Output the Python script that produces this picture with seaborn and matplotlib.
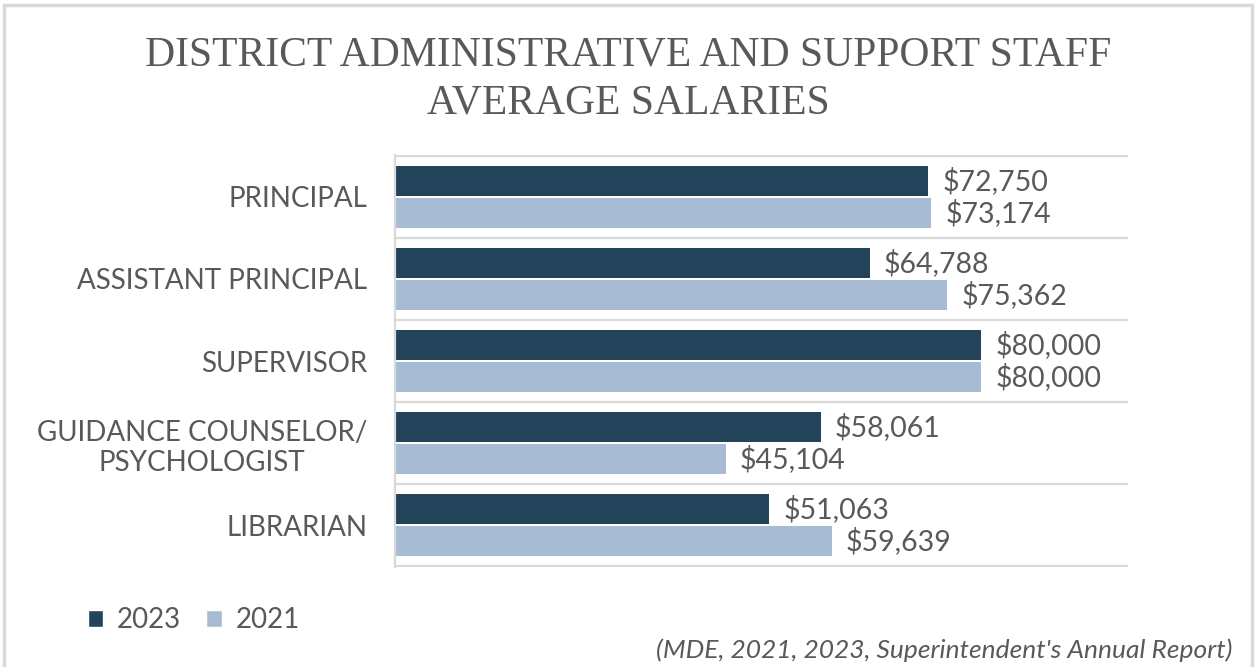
import numpy as np
import pandas as pd
import matplotlib
matplotlib.use("Agg")
import matplotlib.pyplot as plt
from matplotlib.patches import Patch, Rectangle
import seaborn as sns

# chart data
roles = ["PRINCIPAL", "ASSISTANT PRINCIPAL", "SUPERVISOR",
         "GUIDANCE COUNSELOR/\nPSYCHOLOGIST", "LIBRARIAN"]
years = ["2023", "2021"]
salary_2023 = [72750, 64788, 80000, 58061, 51063]
salary_2021 = [73174, 75362, 80000, 45104, 59639]

title = "DISTRICT ADMINISTRATIVE AND SUPPORT STAFF\nAVERAGE SALARIES"
source = "(MDE, 2021, 2023, Superintendent's Annual Report)"

DARK = "#23435A"
LIGHT = "#A7BCD4"
TEXT = "#595959"
GRID = "#D9D9D9"

df = pd.DataFrame({
    "role": roles * 2,
    "year": [years[0]] * len(roles) + [years[1]] * len(roles),
    "salary": salary_2023 + salary_2021,
})

sns.set_theme(style="white")
plt.rcParams["font.family"] = ["Lato", "DejaVu Sans"]

fig = plt.figure(figsize=(12.57, 6.67), dpi=100)
ax = fig.add_axes([0.3142, 0.1499, 0.5832, 0.6177])

sns.barplot(data=df, x="salary", y="role", hue="year", hue_order=years,
            order=roles, palette=[DARK, LIGHT], saturation=1, width=0.78, gap=0.07,
            linewidth=0, legend=False, ax=ax)

for cont in ax.containers:
    ax.bar_label(cont, fmt="${:,.0f}", padding=10, fontsize=20.5, color=TEXT)

ax.set_xlim(0, 100000)
ax.set_ylim(4.51, -0.51)
ax.xaxis.set_visible(False)
ax.set_ylabel("")

# separators between categories, with short outward ticks
ax.set_yticks(np.arange(-0.5, len(roles)), minor=True)
ax.tick_params(axis="y", which="major", length=0, pad=20,
               labelsize=20, labelcolor=TEXT)
ax.tick_params(axis="y", which="minor", length=6.5, width=1.5, color=GRID)
for lbl in ax.get_yticklabels():
    lbl.set_multialignment("center")
ax.yaxis.grid(True, which="minor", color=GRID, linewidth=1.6)
ax.yaxis.grid(False, which="major")

for side in ["top", "right", "bottom"]:
    ax.spines[side].set_visible(False)
ax.spines["left"].set_color(GRID)
ax.spines["left"].set_linewidth(1.6)

fig.text(0.5, 1 - 79 / 667, title, ha="center", va="center",
         fontsize=30, color=TEXT, family="Liberation Serif", linespacing=1.32)

handles = [Patch(facecolor=DARK, label=years[0]),
           Patch(facecolor=LIGHT, label=years[1])]
fig.legend(handles=handles, loc="center left", bbox_to_anchor=(88 / 1257, 1 - 620 / 667),
           ncol=2, frameon=False, fontsize=20, labelcolor=TEXT,
           handlelength=0.55, handleheight=0.55, handletextpad=0.5,
           columnspacing=0.9, borderpad=0, borderaxespad=0)

fig.text(1232 / 1257, 1 - 650 / 667, source, ha="right", va="center",
         fontsize=19, style="italic", color=TEXT)

# light frame around the chart
fig.patches.append(Rectangle((0.003, -0.02), 0.993, 1.012, transform=fig.transFigure,
                             fill=False, edgecolor=GRID, linewidth=2.5))

fig.savefig("out.png", dpi=100, facecolor="white")
